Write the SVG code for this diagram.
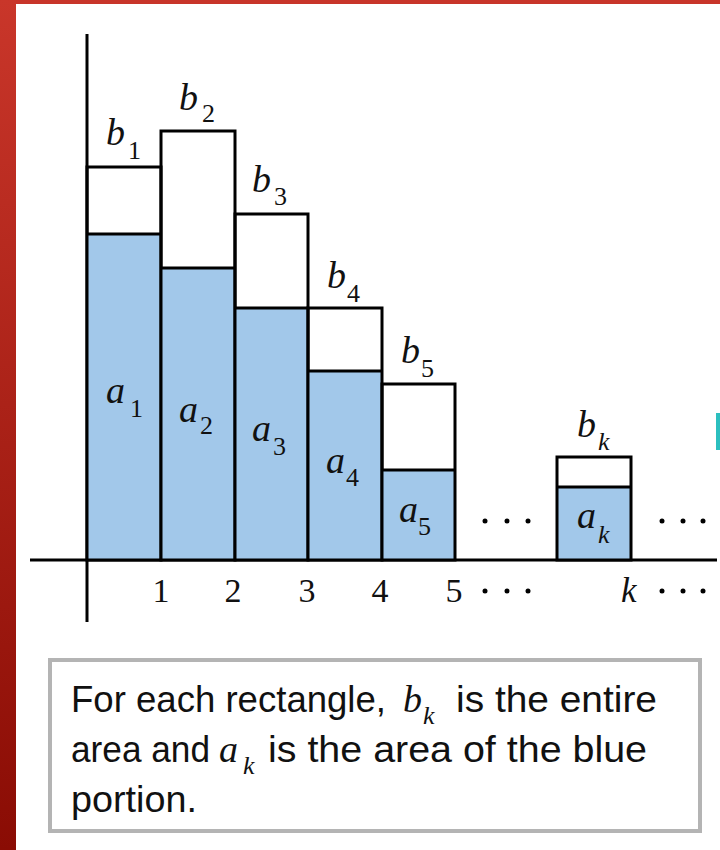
<svg xmlns="http://www.w3.org/2000/svg" width="720" height="850" viewBox="0 0 720 850">
<defs>
<linearGradient id="redbar" x1="0" y1="0" x2="0" y2="1">
<stop offset="0" stop-color="#c9362a"/>
<stop offset="1" stop-color="#8a0c04"/>
</linearGradient>
</defs>
<style>
.blue{fill:#a2c8ea;stroke:none}
.frame{fill:none;stroke:#000;stroke-width:3}
.ax{stroke:#000;stroke-width:3;fill:none}
.m{font-family:"Liberation Serif","Times New Roman",serif;font-style:italic;font-size:38px;fill:#111}
.s{font-family:"Liberation Serif","Times New Roman",serif;font-style:normal;font-size:26px}
.sk{font-family:"Liberation Serif","Times New Roman",serif;font-style:italic;font-size:26px}
.n{font-family:"Liberation Serif","Times New Roman",serif;font-size:34px;fill:#111;text-anchor:middle}
.cap{font-family:"Liberation Sans Narrow","Liberation Sans",Arial,sans-serif;font-size:37px;fill:#111}
.dot{fill:#000}
</style>
<rect x="0" y="0" width="720" height="850" fill="#ffffff"/>
<rect x="0" y="0" width="720" height="4" fill="#c8352a"/>
<rect x="0" y="0" width="16" height="850" fill="url(#redbar)"/>
<rect x="716" y="413" width="4" height="37" fill="#2cbfbf"/>

<g id="axes">
<line class="ax" x1="87" y1="34" x2="87" y2="622"/>
<line class="ax" x1="30" y1="560" x2="717" y2="560"/>
</g>

<g id="rect1">
<rect class="blue" x="87" y="234" width="74" height="326"/>
<rect class="frame" x="87" y="167" width="74" height="393"/>
<line class="ax" x1="87" y1="234" x2="161" y2="234"/>
<text class="m" x="106" y="145">b<tspan class="s" x="128" y="159">1</tspan></text>
<text class="m" x="106" y="403">a<tspan class="s" x="130" y="417">1</tspan></text>
</g>
<g id="rect2">
<rect class="blue" x="161" y="268" width="74" height="292"/>
<rect class="frame" x="161" y="131" width="74" height="429"/>
<line class="ax" x1="161" y1="268" x2="235" y2="268"/>
<text class="m" x="179" y="110">b<tspan class="s" x="202" y="122">2</tspan></text>
<text class="m" x="179" y="422">a<tspan class="s" x="200" y="434">2</tspan></text>
</g>
<g id="rect3">
<rect class="blue" x="235" y="308" width="73" height="252"/>
<rect class="frame" x="235" y="214" width="73" height="346"/>
<line class="ax" x1="235" y1="308" x2="308" y2="308"/>
<text class="m" x="252" y="192">b<tspan class="s" x="274" y="205">3</tspan></text>
<text class="m" x="252" y="441">a<tspan class="s" x="273" y="455">3</tspan></text>
</g>
<g id="rect4">
<rect class="blue" x="308" y="371" width="74" height="189"/>
<rect class="frame" x="308" y="308" width="74" height="252"/>
<line class="ax" x1="308" y1="371" x2="382" y2="371"/>
<text class="m" x="327" y="288">b<tspan class="s" x="347" y="302">4</tspan></text>
<text class="m" x="326" y="473">a<tspan class="s" x="346" y="486">4</tspan></text>
</g>
<g id="rect5">
<rect class="blue" x="382" y="470" width="73" height="90"/>
<rect class="frame" x="382" y="384" width="73" height="176"/>
<line class="ax" x1="382" y1="470" x2="455" y2="470"/>
<text class="m" x="401" y="363">b<tspan class="s" x="421" y="377">5</tspan></text>
<text class="m" x="399" y="522">a<tspan class="s" x="418" y="535">5</tspan></text>
</g>
<g id="rectk">
<rect class="blue" x="557" y="487" width="74" height="73"/>
<rect class="frame" x="557" y="457" width="74" height="103"/>
<line class="ax" x1="557" y1="487" x2="631" y2="487"/>
<text class="m" x="577" y="437">b<tspan class="sk" x="598" y="450">k</tspan></text>
<text class="m" x="577" y="528">a<tspan class="sk" x="598" y="543">k</tspan></text>
</g>

<g id="ticks">
<text class="n" x="161" y="602">1</text>
<text class="n" x="233" y="602">2</text>
<text class="n" x="307" y="602">3</text>
<text class="n" x="380" y="602">4</text>
<text class="n" x="454" y="602">5</text>
<text class="m" x="621" y="602" style="font-size:35px">k</text>
</g>

<g id="dots">
<circle class="dot" cx="485" cy="521" r="2.5"/><circle class="dot" cx="507" cy="521" r="2.5"/><circle class="dot" cx="528" cy="521" r="2.5"/>
<circle class="dot" cx="485" cy="591" r="2.5"/><circle class="dot" cx="507" cy="591" r="2.5"/><circle class="dot" cx="528" cy="591" r="2.5"/>
<circle class="dot" cx="662" cy="521" r="2.5"/><circle class="dot" cx="683" cy="521" r="2.5"/><circle class="dot" cx="703" cy="521" r="2.5"/>
<circle class="dot" cx="662" cy="591" r="2.5"/><circle class="dot" cx="683" cy="591" r="2.5"/><circle class="dot" cx="703" cy="591" r="2.5"/>
</g>

<g id="caption">
<rect x="50" y="660" width="650" height="171" fill="#ffffff" stroke="#b4b4b4" stroke-width="4"/>
<text class="cap" x="71" y="712" textLength="315" lengthAdjust="spacingAndGlyphs">For each rectangle,</text>
<text class="m" x="403" y="712">b<tspan class="sk" x="423" y="724">k</tspan></text>
<text class="cap" x="456" y="712" textLength="201" lengthAdjust="spacingAndGlyphs">is the entire</text>
<text class="cap" x="71" y="762" textLength="139" lengthAdjust="spacingAndGlyphs">area and</text>
<text class="m" x="219" y="762">a<tspan class="sk" x="243" y="774">k</tspan></text>
<text class="cap" x="268" y="762" textLength="379" lengthAdjust="spacingAndGlyphs">is the area of the blue</text>
<text class="cap" x="71" y="812" textLength="126" lengthAdjust="spacingAndGlyphs">portion.</text>
</g>
</svg>
